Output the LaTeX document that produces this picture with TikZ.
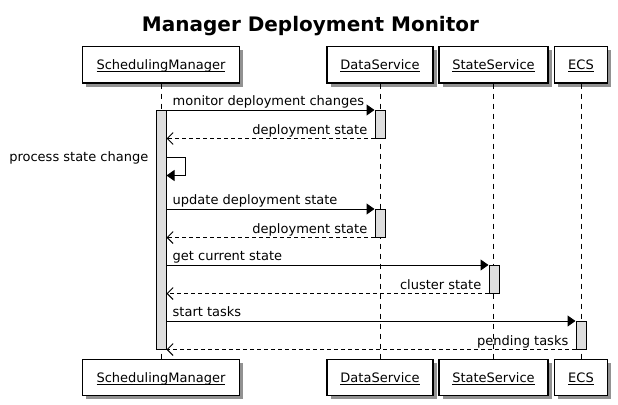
\documentclass[tikz,border=0pt]{standalone}
\usepackage{fontspec}
\setmainfont{DejaVu Sans}
\usetikzlibrary{arrows.meta,calc,positioning,shadows}
\tikzset{
	part/.style={draw, fill=white, line width=1.2pt, inner sep=0, minimum height=36.5pt, text height=9.5pt, text depth=0pt, font=\fontsize{13}{15}\selectfont, drop shadow={shadow xshift=3.5pt, shadow yshift=-3.5pt, fill=black!85}},
	life/.style={line width=0.9pt, dash pattern=on 5pt off 5pt},
	act/.style={draw, fill=black!13, line width=1pt, minimum width=10pt, inner sep=0},
	msg/.style={-{Triangle[length=8pt,width=11pt]}, line width=1pt},
	ret/.style={-{Straight Barb[length=6pt,width=12pt]}, line width=0.9pt, dash pattern=on 4pt off 3pt},
	msglabel/.style={font=\fontsize{13}{15}\selectfont, inner sep=0}
}
\begin{document}
\begin{tikzpicture}[x=1pt, y=-1pt]
		% Variables for distances
		\def\h{27.5} % height of a short activation
		\def\ty{64.75} % top row of boxes
		\def\by{377.5} % bottom row of boxes
		\def\pname#1{\setbox0=\hbox{#1}\rlap{\vrule width\wd0 height-1.4pt depth2.4pt}\box0}
		
		\path[use as bounding box, fill=white] (0,0) rectangle (618,404);
		
		\node[font=\fontsize{20}{24}\selectfont\bfseries, anchor=base] (T) at (310.5,31.5) {Manager Deployment Monitor};
		
		% participants
		\node[part, minimum width=157pt] (SM) at (161,\ty) {\pname{SchedulingManager}};
		\node[part, minimum width=106pt] (DS) at (380,\ty) {\pname{DataService}};
		\node[part, minimum width=109pt] (SS) at (493.5,\ty) {\pname{StateService}};
		\node[part, minimum width=53pt] (ECS) at (581,\ty) {\pname{ECS}};
		
		\node[part, minimum width=157pt] (SMb) at (161,\by) {\pname{SchedulingManager}};
		\node[part, minimum width=106pt] (DSb) at (380,\by) {\pname{DataService}};
		\node[part, minimum width=109pt] (SSb) at (493.5,\by) {\pname{StateService}};
		\node[part, minimum width=53pt] (ECSb) at (581,\by) {\pname{ECS}};
		
		\draw[life] (SM) -- (SMb);
		\draw[life] (DS) -- (DSb);
		\draw[life] (SS) -- (SSb);
		\draw[life] (ECS) -- (ECSb);
		
		% activations
		\node[act, minimum height=238.5pt] (SMa) at (161,229.75) {};
		\node[act, minimum height=\h] (DSa1) at (380,124.25) {};
		\node[act, minimum height=\h] (DSa2) at (380,223.25) {};
		\node[act, minimum height=\h] (SSa) at (494,279.25) {};
		\node[act, minimum height=\h] (ECSa) at (581,335.25) {};
		
		\draw[msg] (SMa.east |- DSa1.north) -- (DSa1.north west);
		\node[msglabel, anchor=base west] at ($(SMa.east |- DSa1.north) + (6,-5)$) {monitor deployment changes};
		\draw[ret] (DSa1.south west) -- (SMa.east |- DSa1.south);
		\node[msglabel, anchor=base east] at ($(DSa1.south west) + (-7,-4.5)$) {deployment state};
		
		\coordinate (S1) at (SMa.east |- 0,157.5);
		\coordinate (S2) at (SMa.east |- 0,175.5);
		\draw[msg] (S1) -- ++(19,0) |- (S2);
		\node[msglabel, anchor=base east] at ($(SMa.west |- S1) + (-7,4)$) {process state change};
		
		\draw[msg] (SMa.east |- DSa2.north) -- (DSa2.north west);
		\node[msglabel, anchor=base west] at ($(SMa.east |- DSa2.north) + (6,-5)$) {update deployment state};
		\draw[ret] (DSa2.south west) -- (SMa.east |- DSa2.south);
		\node[msglabel, anchor=base east] at ($(DSa2.south west) + (-7,-4.5)$) {deployment state};
		
		\draw[msg] (SMa.east |- SSa.north) -- (SSa.north west);
		\node[msglabel, anchor=base west] at ($(SMa.east |- SSa.north) + (6,-5)$) {get current state};
		\draw[ret] (SSa.south west) -- (SMa.east |- SSa.south);
		\node[msglabel, anchor=base east] at ($(SSa.south west) + (-7,-4.5)$) {cluster state};
		
		\draw[msg] (SMa.east |- ECSa.north) -- (ECSa.north west);
		\node[msglabel, anchor=base west] at ($(SMa.east |- ECSa.north) + (6,-5)$) {start tasks};
		\draw[ret] (ECSa.south west) -- (SMa.east |- ECSa.south);
		\node[msglabel, anchor=base east] at ($(ECSa.south west) + (-7,-4.5)$) {pending tasks};
		
	\end{tikzpicture}
\end{document}
